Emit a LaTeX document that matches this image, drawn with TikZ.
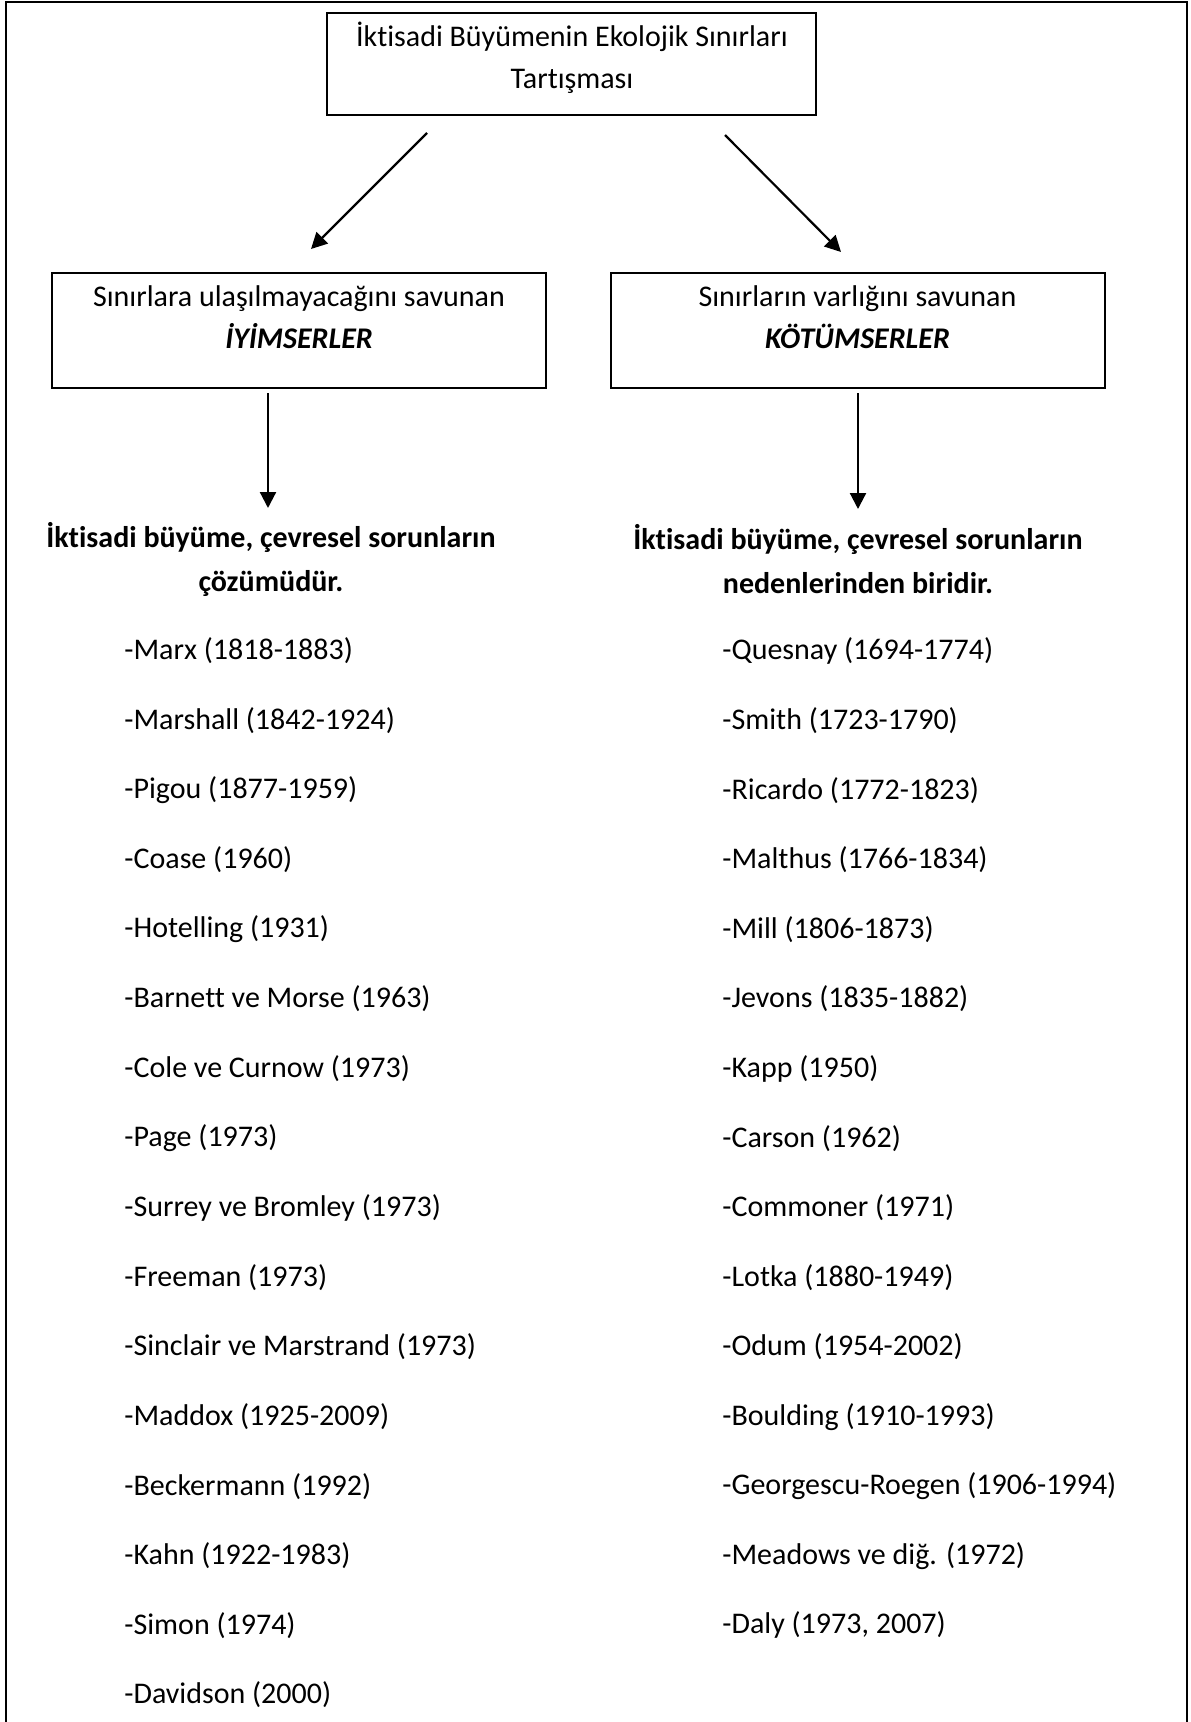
\documentclass[tikz,border=0pt]{standalone}
\usepackage{fontspec}
\setmainfont[Ligatures=NoCommon]{Carlito}
\usetikzlibrary{arrows.meta}
\tikzset{
  boxframe/.style={draw, line width=1pt, inner sep=0pt},
  txt/.style={inner sep=0pt, align=center, font=\fontsize{15}{21}\selectfont},
  head/.style={inner sep=0pt, align=center, font=\fontsize{15}{22}\selectfont\bfseries},
  item/.style={inner sep=0pt, anchor=west, font=\fontsize{15}{21}\selectfont},
  link/.style={line width=1.1pt, -{Triangle[length=8pt,width=8pt]}}
}
\begin{document}
\begin{tikzpicture}[x=0.5pt, y=-0.5pt]
\useasboundingbox (0,0) rectangle (1190,1722);
% outer frame, open at the bottom
\draw[line width=1.2pt] (6,1722) -- (6,2) -- (1187,2) -- (1187,1722);

% boxes
\node[boxframe, minimum width=244.5pt, minimum height=51pt] (top) at (571.5,64) {};
\node[boxframe, minimum width=247pt, minimum height=57.5pt] (opt) at (299,330.5) {};
\node[boxframe, minimum width=247pt, minimum height=57.5pt] (pes) at (857.5,330.5) {};

% box texts
\node[txt] (topt) at (572,58) {İktisadi Büyümenin Ekolojik Sınırları\\Tartışması};
\node[txt] (optt) at (299,317) {Sınırlara ulaşılmayacağını savunan\\\textbf{\textit{İYİMSERLER}}};
\node[txt] (pest) at (857.5,317) {Sınırların varlığını savunan\\\textbf{\textit{KÖTÜMSERLER}}};

% headings
\node[head] (opth) at (271,559) {İktisadi büyüme, çevresel sorunların\\çözümüdür.};
\node[head] (pesh) at (858,559) {İktisadi büyüme, çevresel sorunların\\nedenlerinden biridir.};

% connectors
\coordinate (a1) at (427,133);
\coordinate (a2) at (311,249);
\coordinate (b1) at (725,135);
\coordinate (b2) at (841,252);
\coordinate (c1) at (268,393);
\coordinate (c2) at (268,508);
\coordinate (d1) at (858,393);
\coordinate (d2) at (858,509);
\draw[link] (a1) -- (a2);
\draw[link] (b1) -- (b2);
\draw[link] (c1) -- (c2);
\draw[link] (d1) -- (d2);

% left list
\foreach \t [count=\i] in {{-Marx (1818-1883)},{-Marshall (1842-1924)},{-Pigou (1877-1959)},{-Coase (1960)},{-Hotelling (1931)},{-Barnett ve Morse (1963)},{-Cole ve Curnow (1973)},{-Page (1973)},{-Surrey ve Bromley (1973)},{-Freeman (1973)},{-Sinclair ve Marstrand (1973)},{-Maddox (1925-2009)},{-Beckermann (1992)},{-Kahn (1922-1983)},{-Simon (1974)},{-Davidson (2000)}}
  \node[item] (L\i) at (124,{651+69.6*(\i-1)}) {\t};

% right list
\foreach \t [count=\i] in {{-Quesnay (1694-1774)},{-Smith (1723-1790)},{-Ricardo (1772-1823)},{-Malthus (1766-1834)},{-Mill (1806-1873)},{-Jevons (1835-1882)},{-Kapp (1950)},{-Carson (1962)},{-Commoner (1971)},{-Lotka (1880-1949)},{-Odum (1954-2002)},{-Boulding (1910-1993)},{-Georgescu-Roegen (1906-1994)},{-Meadows ve diğ. (1972)},{-Daly (1973, 2007)}}
  \node[item] (R\i) at (722,{651+69.6*(\i-1)}) {\t};
\end{tikzpicture}
\end{document}
